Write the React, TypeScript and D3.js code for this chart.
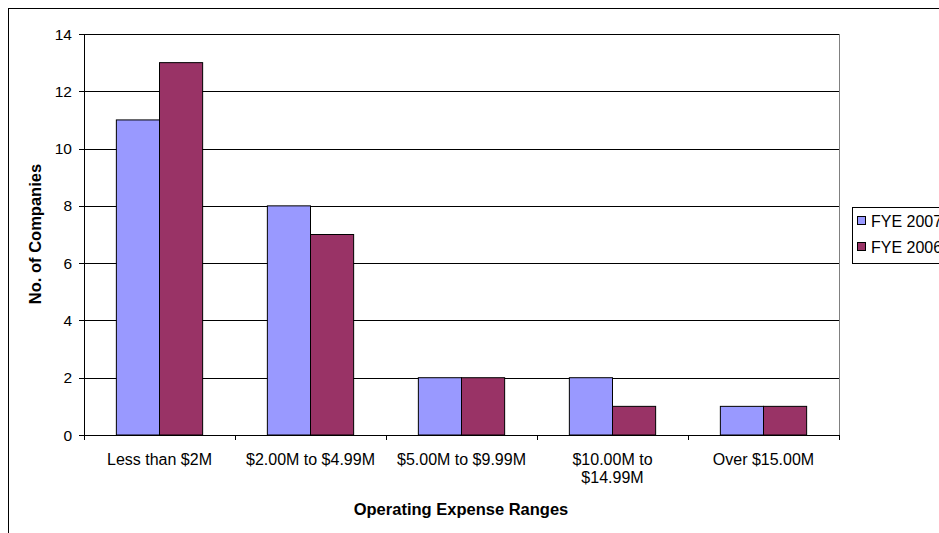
import React from "react";
import * as d3 from "d3";

const categories: string[][] = [
  ["Less than $2M"],
  ["$2.00M to $4.99M"],
  ["$5.00M to $9.99M"],
  ["$10.00M to", "$14.99M"],
  ["Over $15.00M"],
];
const seriesNames = ["FYE 2007", "FYE 2006"];
const fye2007 = [11, 8, 2, 2, 1];
const fye2006 = [13, 7, 2, 1, 1];
const yTicks = [0, 2, 4, 6, 8, 10, 12, 14];
const colors = ["#9999FF", "#993366"];

export default function App() {
  const W = 939, H = 533;
  const left = 84, right = 839, top = 34, bottom = 435;
  const x = d3.scaleBand<number>().domain(d3.range(categories.length)).range([left, right]).paddingInner(0).paddingOuter(0);
  const y = d3.scaleLinear().domain([0, 14]).range([bottom, top]);
  const bw = x.bandwidth() / 3.5;
  const series = [fye2007, fye2006];
  const font = "Arial, 'Liberation Sans', sans-serif";
  return (
    <svg width={W} height={H} style={{ position: "absolute", left: 0, top: 0, fontFamily: font }}>
      <rect x={0} y={0} width={W} height={H} fill="#fff" />
      <rect x={8.5} y={8.5} width={1200} height={1200} fill="none" stroke="#000" strokeWidth={1} />
      {yTicks.map((t) => (
        <g key={t}>
          {t > 0 && <line x1={left} x2={right} y1={Math.round(y(t)) + 0.5} y2={Math.round(y(t)) + 0.5} stroke="#000" strokeWidth={1} />}
          <line x1={left - 5} x2={left} y1={Math.round(y(t)) + 0.5} y2={Math.round(y(t)) + 0.5} stroke="#000" />
          <text x={72} y={y(t)} dy="0.36em" textAnchor="end" fontSize={15.5}>{t}</text>
        </g>
      ))}
      <line x1={right + 0.5} x2={right + 0.5} y1={top} y2={bottom} stroke="#808080" />
      {series.map((s, si) =>
        s.map((v, i) => (
          <rect
            key={si + "-" + i}
            x={(x(i) as number) + 0.75 * bw + si * bw}
            y={y(v)}
            width={bw}
            height={bottom - y(v)}
            fill={colors[si]}
            stroke="#000"
            strokeWidth={1}
          />
        ))
      )}
      <line x1={left + 0.5} x2={left + 0.5} y1={top} y2={bottom} stroke="#000" />
      <line x1={left} x2={right} y1={bottom + 0.5} y2={bottom + 0.5} stroke="#000" />
      {d3.range(categories.length + 1).map((i) => {
        const xx = Math.round(left + i * x.step()) + 0.5;
        return <line key={i} x1={xx} x2={xx} y1={bottom} y2={bottom + 5} stroke="#000" />;
      })}
      {categories.map((c, i) => (
        <text key={i} x={(x(i) as number) + x.bandwidth() / 2} y={465} textAnchor="middle" fontSize={16}>
          {c.map((line, li) => (
            <tspan key={li} x={(x(i) as number) + x.bandwidth() / 2} dy={li === 0 ? 0 : 18}>{line}</tspan>
          ))}
        </text>
      ))}
      <text x={461} y={515} textAnchor="middle" fontSize={16.5} fontWeight="bold">Operating Expense Ranges</text>
      <text transform={`translate(41,234) rotate(-90)`} textAnchor="middle" fontSize={16.5} fontWeight="bold">No. of Companies</text>
      <rect x={852.5} y={207.5} width={120} height={56} fill="#fff" stroke="#000" />
      {seriesNames.map((n, i) => (
        <g key={n}>
          <rect x={857.5} y={216.5 + i * 26} width={8} height={8} fill={colors[i]} stroke="#000" />
          <text x={871} y={221 + i * 26} dy="0.36em" fontSize={16}>{n}</text>
        </g>
      ))}
    </svg>
  );
}
